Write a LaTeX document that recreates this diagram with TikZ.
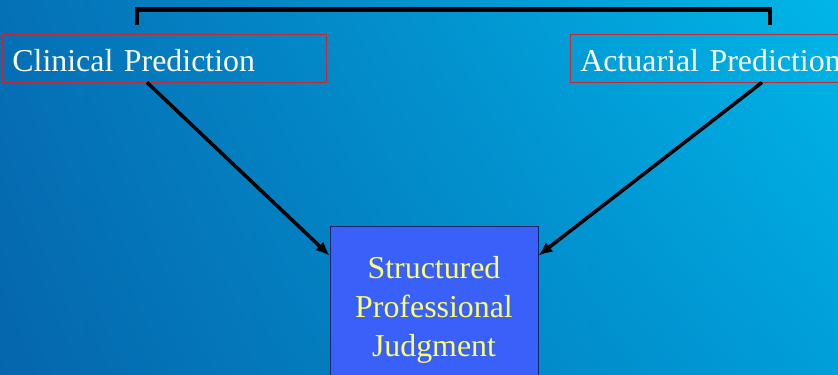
\documentclass[tikz,border=0pt]{standalone}
\usepackage{fontspec}
\setmainfont{Liberation Serif}
\usetikzlibrary{arrows.meta}
\usetikzlibrary{shadings}

\definecolor{bgUL}{RGB}{5,112,182}
\definecolor{bgLL}{RGB}{5,102,172}
\definecolor{bgUR}{RGB}{0,182,232}
\definecolor{bgLR}{RGB}{0,158,218}
\definecolor{boxred}{RGB}{200,40,50}
\definecolor{spjfill}{RGB}{58,96,250}
\definecolor{spjline}{RGB}{20,35,100}
\definecolor{spjtext}{RGB}{255,255,110}

\begin{document}
\begin{tikzpicture} [
    x=1bp, y=1bp,
    predbox/.style = { rectangle, draw=boxred, line width=0.8bp,
                       text=white, text width=#1, align=left,
                       inner xsep=10bp, inner ysep=0bp,
                       text height=37bp, text depth=11bp,
                       minimum height=48bp, anchor=west,
                       font=\fontsize{32}{38}\selectfont },
    spjbox/.style  = { rectangle, draw=spjline, line width=0.8bp,
                       fill=spjfill, text=spjtext, align=center,
                       minimum width=208bp, minimum height=168bp,
                       font=\fontsize{32}{39}\selectfont },
    link/.style    = { draw, line width=3.5bp,
                       -{Latex[length=14bp,width=12bp]} },
    bracket/.style = { draw, line width=4.5bp, miter limit=10 },
  ]
  % background
  \useasboundingbox (0,0) rectangle (838,374);
  \shade [upper left=bgUL, lower left=bgLL, upper right=bgUR, lower right=bgLR]
    (0,0) rectangle (838,374);

  % the three approaches
  \node [predbox=304bp] (clin) at (2,316) {Clinical Prediction};
  \node [predbox=270bp] (act)  at (570,316) {Actuarial Prediction};
  \node [spjbox] (spj) at (434,64) {Structured\\Professional\\ Judgment};

  % bracket over both predictions
  \draw [bracket] ([xshift=135bp,yshift=9bp]clin.north west)
    |- ([xshift=200bp,yshift=24bp]act.north west)
    -- ([xshift=200bp,yshift=9bp]act.north west);

  % connect both to the centre box
  \begin{scope} [every path/.style=link]
    \path ([xshift=145bp]clin.south west) -- ([yshift=-30bp]spj.north west);
    \path ([xshift=192bp]act.south west)  -- ([yshift=-30bp]spj.north east);
  \end{scope}
\end{tikzpicture}
\end{document}
